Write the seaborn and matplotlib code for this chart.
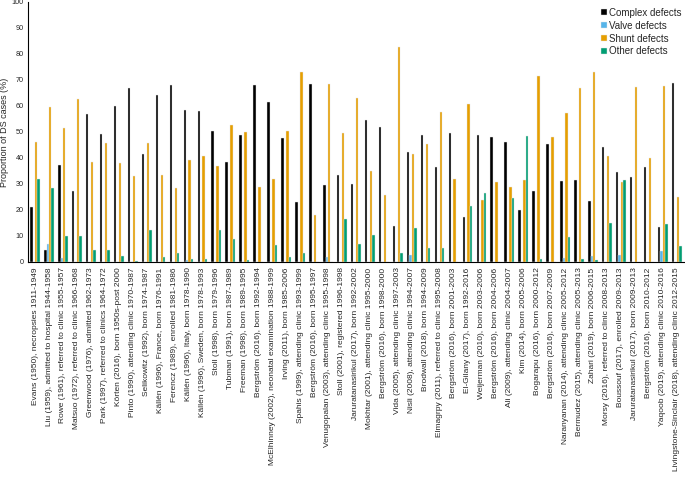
# ============================================
# Congenital heart defect types in Down syndrome studies
# Grouped bar chart (seaborn)
# ============================================

import numpy as np
import pandas as pd
import matplotlib
matplotlib.use("Agg")
import matplotlib.pyplot as plt
import seaborn as sns

sns.set_theme(style="white")
plt.rcParams['font.family'] = ['Liberation Sans', 'DejaVu Sans']

# --------------------------------------------
# Data
# --------------------------------------------
studies = [
    "Evans (1950), necropsies 1911-1949",
    "Liu (1959), admitted to hospital 1944-1958",
    "Rowe (1961), referred to clinic 1955-1957",
    "Matsuo (1972), referred to clinic 1966-1968",
    "Greenwood (1976), admitted 1962-1973",
    "Park (1997), referred to clinics 1964-1972",
    "Körten (2016), born 1950s-post 2000",
    "Pinto (1990), attending clinic 1970-1987",
    "Selikowitz (1992), born 1974-1987",
    "Källén (1996), France, born 1976-1991",
    "Ferencz (1989), enrolled 1981-1986",
    "Källén (1996), Italy, born 1978-1990",
    "Källén (1996), Sweden, born 1978-1993",
    "Stoll (1998), born 1979-1996",
    "Tubman (1991), born 1987-1989",
    "Freeman (1998), born 1989-1995",
    "Bergström (2016), born 1992-1994",
    "McElhinney (2002), neonatal examination 1988-1999",
    "Irving (2011), born 1985-2006",
    "Spahis (1999), attending clinic 1993-1999",
    "Bergström (2016), born 1995-1997",
    "Venugopalan (2003), attending clinic 1995-1998",
    "Stoll (2001), registered 1996-1998",
    "Jaruratanasirikul (2017), born 1992-2002",
    "Mokhtar (2001), attending clinic 1995-2000",
    "Bergström (2016), born 1998-2000",
    "Vida (2005), attending clinic 1997-2003",
    "Nisli (2008), attending clinic 1994-2007",
    "Brodwall (2018), born 1994-2009",
    "Elmagrpy (2011), referred to clinic 1995-2008",
    "Bergström (2016), born 2001-2003",
    "El-Gilany (2017), born 1992-2016",
    "Weijerman (2010), born 2003-2006",
    "Bergström (2016), born 2004-2006",
    "Ali (2009), attending clinic 2004-2007",
    "Kim (2014), born 2005-2006",
    "Bogarapu (2016), born 2000-2012",
    "Bergström (2016), born 2007-2009",
    "Naranyanan (2014), attending clinic 2005-2012",
    "Bermudez (2015), attending clinic 2005-2013",
    "Zahari (2019), born 2006-2015",
    "Morsy (2016), referred to clinic 2008-2013",
    "Boussouf (2017), enrolled 2009-2013",
    "Jaruratanasirikul (2017), born 2009-2013",
    "Bergström (2016), born 2010-2012",
    "Yaqoob (2019), attending clinic 2010-2016",
    "Livingstone-Sinclair (2018), attending clinic 2012-2015",
]

complex_defects = [
    21.3, 4.6, 37.1, 27.1, 57.0, 49.3, 59.8, 66.8, 41.7, 64.2,
    67.9, 58.5, 58.2, 50.4, 38.3, 48.9, 68.2, 61.4, 47.6, 23.1,
    68.3, 29.7, 33.5, 29.9, 54.6, 52.0, 13.7, 42.2, 49.0, 36.6,
    49.7, 17.1, 48.8, 48.0, 46.2, 20.0, 27.1, 45.3, 31.2, 31.6,
    23.4, 44.2, 34.5, 32.7, 36.6, 13.6, 68.8,
]

valve_defects = [
    0.0, 6.9, 1.4, 0.0, 0.0, 0.0, 0.0, 0.0, 0.0, 0.0,
    0.0, 0.6, 0.0, 0.0, 0.0, 0.0, 0.0, 0.0, 0.0, 0.0,
    0.0, 1.8, 0.0, 0.0, 0.0, 0.0, 0.0, 2.7, 0.0, 0.0,
    0.0, 0.0, 0.0, 0.0, 0.0, 0.0, 0.0, 0.0, 1.5, 0.0,
    2.3, 0.0, 2.7, 0.0, 0.0, 4.2, 0.0,
]

shunt_defects = [
    46.3, 59.6, 51.6, 62.8, 38.3, 45.8, 38.0, 32.9, 45.8, 33.5,
    28.4, 39.3, 40.6, 37.0, 52.8, 49.9, 28.8, 32.0, 50.3, 73.2,
    18.0, 68.5, 49.7, 63.2, 34.8, 25.9, 82.7, 41.6, 45.3, 57.8,
    32.0, 60.8, 24.0, 30.9, 29.0, 31.6, 71.6, 48.0, 57.4, 67.0,
    73.2, 40.6, 30.9, 67.1, 40.1, 67.5, 25.0,
]

other_defects = [
    32.0, 28.5, 10.0, 10.0, 4.6, 4.6, 2.2, 0.4, 12.3, 1.8,
    3.5, 1.2, 1.2, 12.3, 8.9, 0.9, 0.0, 6.5, 1.9, 3.5,
    0.0, 0.0, 16.7, 6.9, 10.4, 0.0, 3.5, 13.0, 5.4, 5.4,
    0.0, 21.6, 26.6, 0.0, 24.6, 48.3, 1.2, 0.0, 9.6, 1.3,
    0.9, 15.1, 31.7, 0.0, 0.0, 14.5, 6.2,
]

series_names = ["Complex defects", "Valve defects", "Shunt defects", "Other defects"]
palette = ["#000000", "#56B4E9", "#E69F00", "#009E73"]

# --------------------------------------------
# Long-format table for seaborn
# --------------------------------------------
df = pd.concat([
    pd.DataFrame({"study": studies, "defect": name, "value": vals})
    for name, vals in zip(series_names,
                          [complex_defects, valve_defects, shunt_defects, other_defects])
])

# --------------------------------------------
# Plot
# --------------------------------------------
fig = plt.figure(figsize=(6.85, 4.78), dpi=100)
ax = fig.add_axes([0.041, 0.452, 0.957, 0.544])

sns.barplot(
    data=df, x="study", y="value", hue="defect",
    order=studies, hue_order=series_names, palette=palette,
    saturation=1, width=0.7, edgecolor="#e6e6e6", linewidth=0.3,
    errorbar=None, ax=ax
)

ax.set_ylim(0, 100)
ax.set_xlim(-0.5, len(studies) - 0.5)
ax.set_yticks(np.arange(0, 101, 10))
ax.tick_params(axis="y", labelsize=5.2, length=2, width=0.6, pad=1)
ax.tick_params(axis="x", labelsize=6, length=2, width=0.6, pad=2, rotation=90)
ax.set_xlabel("")
ax.set_ylabel("Proportion of DS cases (%)", fontsize=6.5, labelpad=2)

for side in ["top", "right"]:
    ax.spines[side].set_visible(False)
for side in ["left", "bottom"]:
    ax.spines[side].set_color("black")
    ax.spines[side].set_linewidth(0.8)

leg = ax.legend(
    loc="upper right", bbox_to_anchor=(1.005, 1.0), frameon=False,
    fontsize=7, handlelength=0.6, handleheight=0.6,
    handletextpad=0.2, labelspacing=0.3, borderaxespad=0.2
)

fig.savefig("out.png", dpi=100)
